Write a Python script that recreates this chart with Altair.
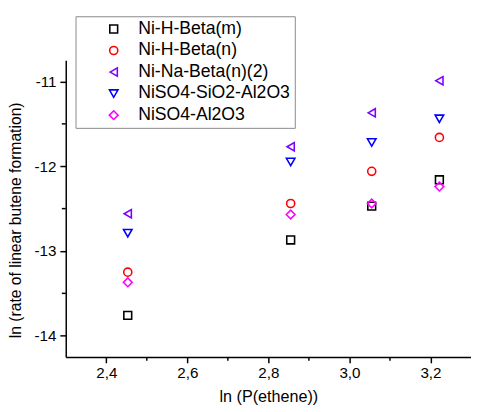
import altair as alt
import pandas as pd

series = ["Ni-H-Beta(m)", "Ni-H-Beta(n)", "Ni-Na-Beta(n)(2)", "NiSO4-SiO2-Al2O3", "NiSO4-Al2O3"]
x_vals = [2.453, 2.855, 3.055, 3.222]
y_nihbeta_m = [-13.76, -12.87, -12.47, -12.16]
y_nihbeta_n = [-13.25, -12.44, -12.06, -11.66]
y_ninabeta = [-12.56, -11.77, -11.37, -10.99]
y_niso4_sio2 = [-12.79, -11.95, -11.72, -11.44]
y_niso4_al2o3 = [-13.37, -12.57, -12.44, -12.24]

shapes = ["square", "circle", "triangle-left", "triangle-down", "diamond"]
colors = ["#000000", "#FF0000", "#8000FF", "#0000FF", "#FF00FF"]
sizes = [64, 80, 121, 121, 121]

x_major = [2.4, 2.6, 2.8, 3.0, 3.2]
x_minor = [2.5, 2.7, 2.9, 3.1]
y_major = [-14, -13, -12, -11]
y_minor = [-13.5, -12.5, -11.5]

all_y = [y_nihbeta_m, y_nihbeta_n, y_ninabeta, y_niso4_sio2, y_niso4_al2o3]
rows = []
for i, (s, ys) in enumerate(zip(series, all_y)):
    for xv, yv in zip(x_vals, ys):
        rows.append({"series": s, "order": i, "x": xv, "y": yv})
df = pd.DataFrame(rows)

W, H = 414, 303
FONT = "Liberation Sans"
xdom = [2.3, 3.3]
ydom = [-14.25, -10.75]

xscale = alt.Scale(domain=xdom, nice=False, zero=False)
yscale = alt.Scale(domain=ydom, nice=False, zero=False)

leg = dict(title=None, labelFontSize=18, labelFont=FONT, labelColor="black")

points = alt.Chart(df).mark_point(filled=False, strokeWidth=1.6, opacity=1).encode(
    x=alt.X("x:Q", scale=xscale, axis=alt.Axis(
        values=x_major, title="ln (P(ethene))", grid=False,
        labelExpr="replace(format(datum.value, '.1f'), '.', ',')",
        tickSize=6, tickWidth=1.5, tickColor="black", domainColor="black", domainWidth=1.5,
        labelFontSize=15.5, labelFont=FONT, labelColor="black", labelPadding=3,
        titleFontSize=16.5, titleFont=FONT, titleFontWeight="normal", titleColor="black",
        titleX=W / 2, titleY=46, titleBaseline="alphabetic")),
    y=alt.Y("y:Q", scale=yscale, axis=alt.Axis(
        values=y_major, title="ln (rate of linear butene formation)", grid=False,
        labelExpr="'' + datum.value",
        tickSize=6, tickWidth=1.5, tickColor="black", domainColor="black", domainWidth=1.5,
        labelFontSize=15.5, labelFont=FONT, labelColor="black", labelPadding=4,
        titleFontSize=16, titleFont=FONT, titleFontWeight="normal", titleColor="black",
        titleAngle=-90, titleX=-51, titleY=163, titleBaseline="middle", titleAlign="center")),
    shape=alt.Shape("series:N", sort=series, scale=alt.Scale(domain=series, range=shapes),
                    legend=alt.Legend(**leg)),
    color=alt.Color("series:N", sort=series, scale=alt.Scale(domain=series, range=colors),
                    legend=alt.Legend(**leg)),
    size=alt.Size("series:N", sort=series, scale=alt.Scale(domain=series, range=sizes),
                  legend=alt.Legend(**leg)),
    order=alt.Order("order:Q"),
)

minor_x = alt.Chart(pd.DataFrame({"v": x_minor})).mark_rule(color="black", strokeWidth=1.5).encode(
    x=alt.X("v:Q", scale=xscale), y=alt.value(H), y2=alt.value(H + 4))
minor_y = alt.Chart(pd.DataFrame({"v": y_minor})).mark_rule(color="black", strokeWidth=1.5).encode(
    y=alt.Y("v:Q", scale=yscale), x=alt.value(0), x2=alt.value(-4))

chart = alt.layer(points, minor_x, minor_y).properties(
    width=W, height=H,
    autosize=alt.AutoSizeParams(type="none"),
    padding={"left": 59, "top": 49, "right": 0, "bottom": 60},
).configure_view(stroke=None).configure_legend(
    orient="none", legendX=10, legendY=-45,
    strokeColor="#888888", strokeWidth=1, fillColor="white",
    padding=4, symbolOffset=26, labelOffset=16, rowPadding=4,
    labelFont=FONT, labelFontSize=18, labelColor="black",
    symbolStrokeWidth=1.6,
)

chart.save("out.html", embed_options={"renderer": "svg", "actions": False})
